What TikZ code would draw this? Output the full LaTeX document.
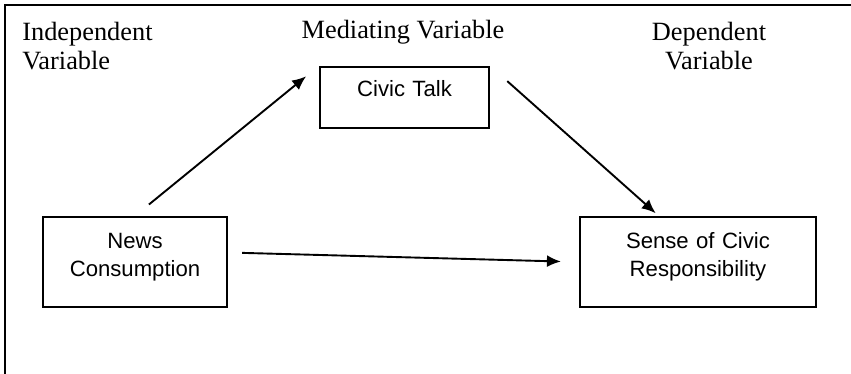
\documentclass[tikz,border=0pt]{standalone}
\usepackage{fontspec}
\setmainfont{Liberation Serif}
\newfontfamily\boxfont{Liberation Sans}
\usetikzlibrary{arrows.meta,calc}

\begin{document}
\begin{tikzpicture} [
            x = 0.02cm, y = -0.02cm,
            box/.style = {draw=black, line width=0.045cm, inner sep=0pt,
                          align=center, font=\boxfont\fontsize{12.6}{16.5}\selectfont},
            heading/.style = {inner sep=0pt, font=\fontsize{15}{17}\selectfont},
            link/.style = {line width=0.038cm, -{Latex[length=2.8mm,width=2.4mm]}},
        ]

            \useasboundingbox (0, 0) rectangle (851, 374);
            \draw[line width=0.045cm] (5, 374) -- (5, 5) -- (851, 5);

            \node[heading, anchor=base west, align=left]   (indep) at (22,  70) {Independent\\Variable};
            \node[heading, anchor=base]                    (medi)  at (403, 39) {Mediating Variable};
            \node[heading, anchor=base, align=center]      (dep)   at (709, 70) {Dependent\\Variable};

            \node[box, text width=3.38cm, text height=0.6cm,  text depth=0.62cm] (talk) at (404.5, 97.5) {Civic Talk};
            \node[box, text width=3.68cm, text height=0.62cm, text depth=1.18cm] (news) at (135,  262)  {News\\Consumption};
            \node[box, text width=4.72cm, text height=0.62cm, text depth=1.18cm] (resp) at (698,  262)  {Sense of Civic\\Responsibility};

            \draw[link, shorten <=0.36cm, shorten >=0.33cm] (news.north) -- (talk.north west);
            \draw[link, shorten <=0.46cm, shorten >=0.08cm] (talk.north east) -- ($(resp.north west)!.335!(resp.north east)$);
            \draw[link, shorten <=0.28cm, shorten >=0.36cm] ([yshift=0.19cm]news.east) -- (resp.west);
        \end{tikzpicture}
\end{document}
